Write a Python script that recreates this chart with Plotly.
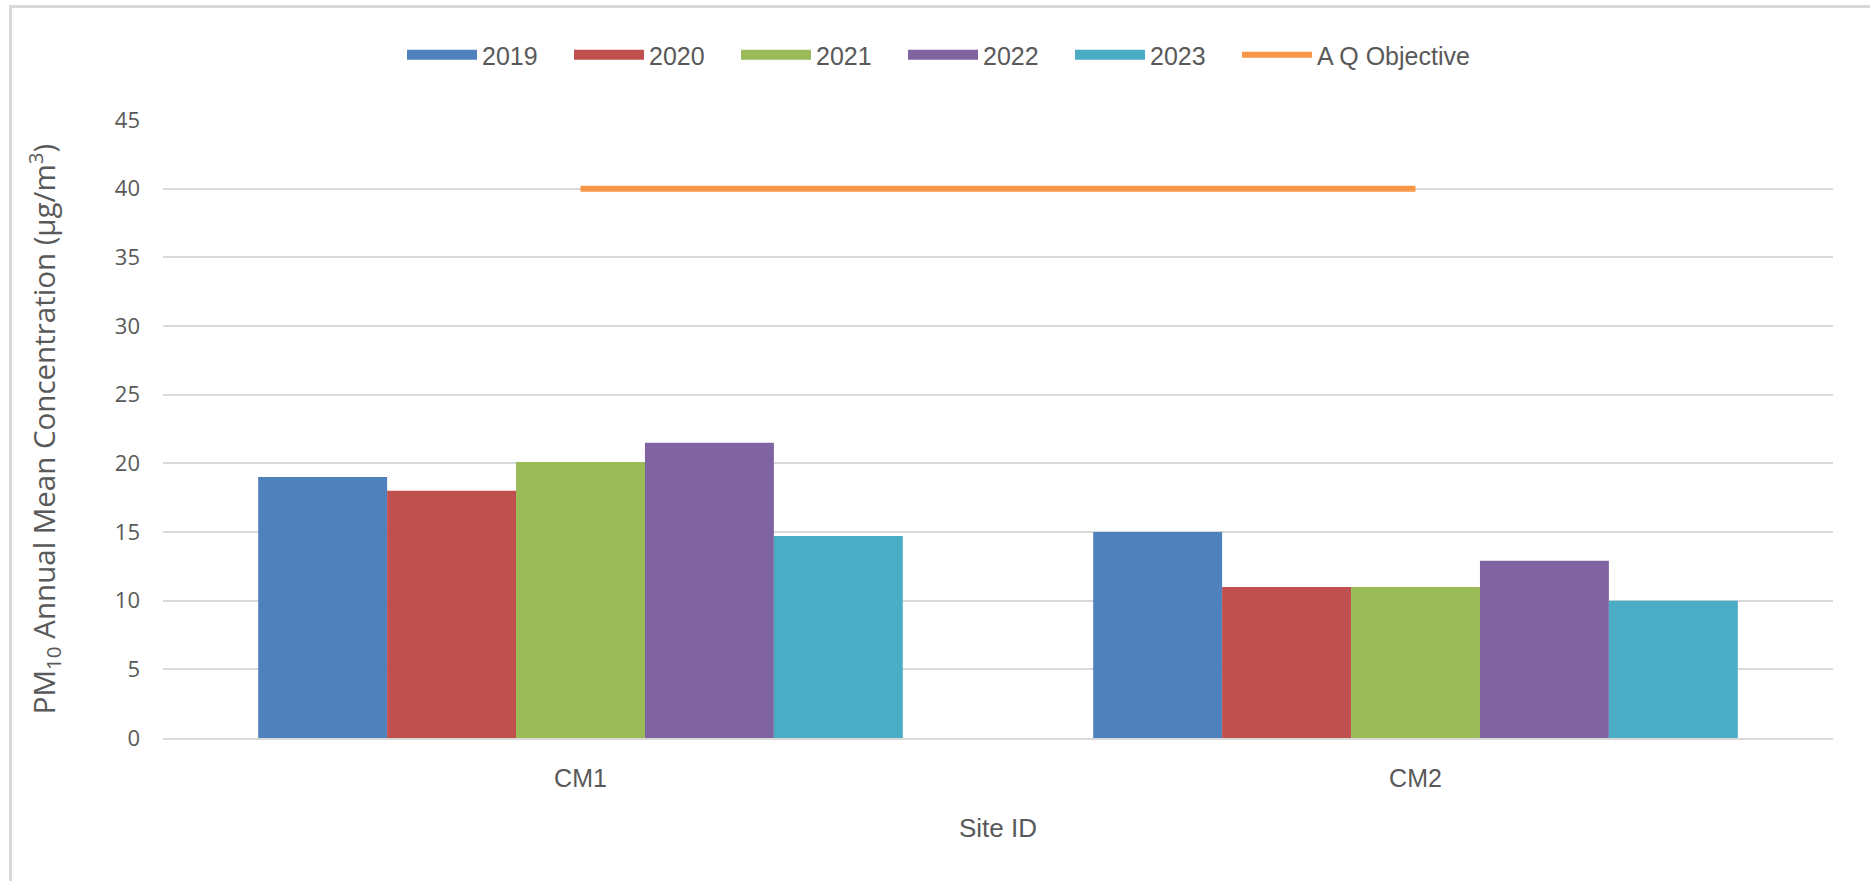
import plotly.graph_objects as go

sites = ["CM1", "CM2"]
years = ["2019", "2020", "2021", "2022", "2023"]
values = {
    "2019": [19.0, 15.0],
    "2020": [18.0, 11.0],
    "2021": [20.1, 11.0],
    "2022": [21.5, 12.9],
    "2023": [14.7, 10.0],
}
objective_name = "A Q Objective"
objective = [40, 40]
y_ticks = [0, 5, 10, 15, 20, 25, 30, 35, 40, 45]

colors = ["#4F81BD", "#C0504D", "#9BBB59", "#8064A2", "#4BACC6"]
obj_color = "#F79646"
text_color = "#595959"
grid_color = "#D9D9D9"
legend_font = "Liberation Sans, Arial, sans-serif"

fig = go.Figure()
for yr, c in zip(years, colors):
    fig.add_trace(go.Bar(x=sites, y=values[yr], name=yr, legendgroup=yr, showlegend=False,
                         marker=dict(color=c, line=dict(width=0))))
    # legend swatch (wide rectangle like the original)
    fig.add_trace(go.Scatter(x=[None], y=[None], name=yr, legendgroup=yr, mode="lines",
                             line=dict(color=c, width=18), hoverinfo="skip"))
fig.add_trace(go.Scatter(x=sites, y=objective, name=objective_name, mode="lines",
                         line=dict(color=obj_color, width=6)))
# empty spacer entry so the last legend label is not clipped
fig.add_trace(go.Scatter(x=[None], y=[None], name="\u00a0", mode="lines",
                         line=dict(color="rgba(0,0,0,0)", width=0), hoverinfo="skip"))

W, H = 1870, 881
L, R, T, B = 163, 37, 120, 143
pw, ph = W - L - R, H - T - B
ITEMW = 70

fig.update_layout(
    width=W, height=H,
    margin=dict(l=L, r=R, t=T, b=B),
    paper_bgcolor="white", plot_bgcolor="white",
    barmode="group", bargap=0.228, bargroupgap=0,
    font=dict(family=legend_font, color=text_color, size=24),
    legend=dict(orientation="h", x=(402 - L) / pw, xanchor="left", y=(T + ph - 55) / ph, yanchor="middle",
                entrywidth=167 - ITEMW - 15, entrywidthmode="pixels", itemwidth=ITEMW,
                font=dict(size=25, family=legend_font, color=text_color),
                bgcolor="rgba(0,0,0,0)", itemclick="toggle"),
    xaxis=dict(showgrid=False, showline=True, linecolor=grid_color, linewidth=2, ticks="",
               ticklabelstandoff=17,
               tickfont=dict(size=25, family=legend_font),
               title=dict(text="Site ID", font=dict(size=26, family=legend_font), standoff=28)),
    yaxis=dict(range=[0, 45], tickvals=y_ticks, showgrid=True, gridcolor=grid_color, gridwidth=2,
               zeroline=False, showline=False, ticks="", ticklabelstandoff=22,
               tickfont=dict(size=22, family="Open Sans, sans-serif"),
               title=dict(text="PM<sub>10</sub> Annual Mean Concentration (µg/m<sup>3</sup>)",
                          font=dict(size=29.5, family="Open Sans, sans-serif"), standoff=50)),
    shapes=[
        dict(type="line", xref="paper", yref="paper",
             x0=(10.5 - L) / pw, x1=(W + 5 - L) / pw, y0=(T + ph - 6.5) / ph, y1=(T + ph - 6.5) / ph,
             line=dict(color=grid_color, width=3)),
        dict(type="line", xref="paper", yref="paper",
             x0=(10.5 - L) / pw, x1=(10.5 - L) / pw, y0=(T + ph - 5) / ph, y1=(T + ph - H - 5) / ph,
             line=dict(color=grid_color, width=3)),
    ],
)

fig.write_html("out.html", config={"displayModeBar": False},
               post_script="document.body.style.margin='0';document.body.style.overflow='hidden';")
